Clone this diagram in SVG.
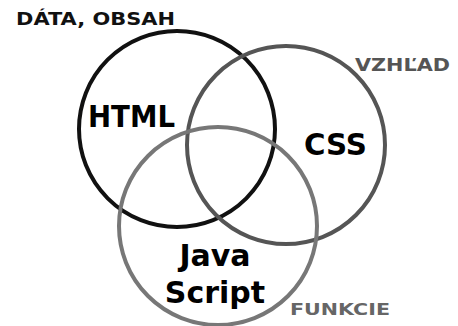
<svg xmlns="http://www.w3.org/2000/svg" width="458" height="326" viewBox="0 0 458 326">
<style>
.c{fill:none;stroke-width:4}
.big{font-family:"DejaVu Sans",sans-serif;font-weight:bold;font-size:30px;fill:#000}
.lbl{font-family:"DejaVu Sans",sans-serif;font-weight:bold}
</style>
<rect width="458" height="326" fill="#fff"/>
<g id="connectors"></g>
<g id="html"><circle class="c" cx="177" cy="129" r="98" stroke="#111"/></g>
<g id="css"><circle class="c" cx="286" cy="145" r="99" stroke="#555"/></g>
<g id="js"><circle class="c" cx="218" cy="226" r="99" stroke="#777"/></g>
<g id="labels">
<text class="big" x="88" y="127" textLength="87" lengthAdjust="spacingAndGlyphs">HTML</text>
<text class="big" x="304" y="155" textLength="63" lengthAdjust="spacingAndGlyphs">CSS</text>
<text class="big" x="215" y="266" text-anchor="middle">Java</text>
<text class="big" x="215" y="303" text-anchor="middle">Script</text>
<text class="lbl" x="16" y="25" font-size="18" fill="#111" textLength="159" lengthAdjust="spacingAndGlyphs">DÁTA, OBSAH</text>
<text class="lbl" x="355" y="71" font-size="18" fill="#555" textLength="95" lengthAdjust="spacingAndGlyphs">VZHĽAD</text>
<text class="lbl" x="290" y="315" font-size="16" fill="#666" textLength="100" lengthAdjust="spacingAndGlyphs">FUNKCIE</text>
</g>
</svg>
